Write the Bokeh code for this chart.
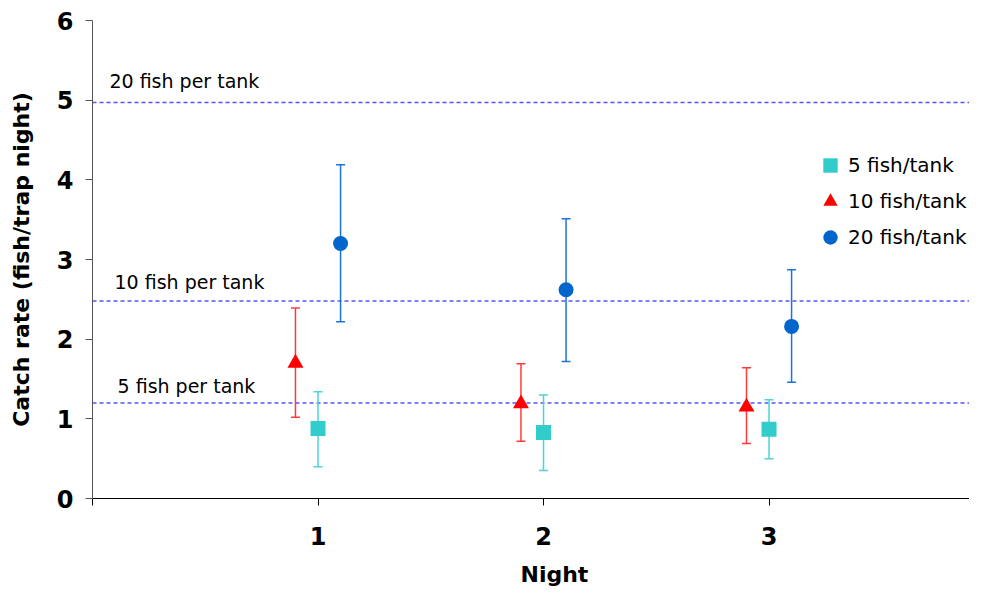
import numpy as np
from bokeh.plotting import figure
from bokeh.models import (ColumnDataSource, Range1d, FixedTicker, Whisker, TeeHead,
                          Span, Label, Legend, LegendItem, Title)
from bokeh.embed import file_html
from bokeh.resources import INLINE

# ---------------- data ----------------
nights = [1, 2, 3]
series_names = ["5 fish/tank", "10 fish/tank", "20 fish/tank"]

fish5_mean = [0.88, 0.83, 0.87]
fish5_upper = [1.34, 1.30, 1.24]
fish5_lower = [0.40, 0.35, 0.50]

fish10_mean = [1.70, 1.19, 1.15]
fish10_upper = [2.39, 1.69, 1.64]
fish10_lower = [1.02, 0.72, 0.69]

fish20_mean = [3.20, 2.62, 2.16]
fish20_upper = [4.19, 3.51, 2.87]
fish20_lower = [2.22, 1.72, 1.46]

ref_values = [1.2, 2.48, 4.97]
ref_labels = ["5 fish per tank", "10 fish per tank", "20 fish per tank"]

y_ticks = [0, 1, 2, 3, 4, 5, 6]
x_ticks = [0, 1, 2, 3]

# ---------------- styles ----------------
FONT = "DejaVu Sans"
styles = [
    dict(offset=0.0, marker="square", size=15, color="#33cccc", bar="#4dd4d4"),
    dict(offset=-0.1, marker="triangle", size=16, color="#ff0000", bar="#ff3b3b"),
    dict(offset=0.1, marker="circle", size=15, color="#0066cc", bar="#1f73d1"),
]
ref_label_x = [0.111, 0.0976, 0.075]
ref_label_dy = [17, 19, 22]

p = figure(width=969, height=599, output_backend="svg", toolbar_location=None,
           x_range=Range1d(0, 3.889), y_range=Range1d(0, 6),
           min_border_left=92, min_border_right=0, min_border_top=20,
           min_border_bottom=101)
p.outline_line_color = None
p.xgrid.visible = False
p.ygrid.visible = False

# axes
p.xaxis.ticker = FixedTicker(ticks=x_ticks)
p.xaxis.major_label_overrides = {0: ""}
p.yaxis.ticker = FixedTicker(ticks=y_ticks)
for ax in (p.xaxis, p.yaxis):
    ax.minor_tick_line_color = None
    ax.major_tick_out = 7
    ax.major_tick_in = 0
    ax.major_label_text_font = FONT
    ax.major_label_text_font_style = "bold"
    ax.major_label_text_font_size = "24px"
    ax.major_label_text_color = "black"
p.xaxis.axis_line_color = "black"
p.xaxis.major_tick_line_color = "black"
p.xaxis.major_label_standoff = 21
p.yaxis.axis_line_color = "#555555"
p.yaxis.major_tick_line_color = "#555555"
p.yaxis.major_label_standoff = 12
p.yaxis.axis_label = "Catch rate (fish/trap night)"
p.yaxis.axis_label_text_font = FONT
p.yaxis.axis_label_text_font_style = "bold"
p.yaxis.axis_label_text_font_size = "22px"
p.yaxis.axis_label_text_color = "black"
p.yaxis.axis_label_standoff = 20

# reference lines
for val, txt, lx, dy in zip(ref_values, ref_labels, ref_label_x, ref_label_dy):
    p.add_layout(Span(location=val, dimension="width", line_color="#5555f5",
                      line_width=1.5, line_dash="4 3", level="underlay"))
    p.add_layout(Label(x=lx, y=val, y_offset=dy, text=txt, text_font=FONT,
                       text_font_size="19px", text_color="black",
                       text_baseline="alphabetic", text_align="left"))

# series
means = [fish5_mean, fish10_mean, fish20_mean]
uppers = [fish5_upper, fish10_upper, fish20_upper]
lowers = [fish5_lower, fish10_lower, fish20_lower]
items = []
for name, m, u, l, st in zip(series_names, means, uppers, lowers, styles):
    src = ColumnDataSource(dict(x=np.array(nights, dtype=float) + st["offset"],
                                mean=m, upper=u, lower=l))
    w = Whisker(base="x", upper="upper", lower="lower", source=src,
                dimension="height", line_color=st["bar"], line_width=1.5,
                upper_head=TeeHead(size=9, line_color=st["bar"], line_width=1.5),
                lower_head=TeeHead(size=9, line_color=st["bar"], line_width=1.5))
    p.add_layout(w)
    r = p.scatter("x", "mean", source=src, marker=st["marker"], size=st["size"],
                  fill_color=st["color"], line_color=None)
    items.append(LegendItem(label=name, renderers=[r]))

legend = Legend(items=items, location=(720, 243), orientation="vertical",
                glyph_width=36, glyph_height=36, label_height=36, spacing=0,
                padding=0, margin=0, label_standoff=0,
                label_text_font=FONT, label_text_font_size="20px",
                label_text_color="black", border_line_color=None,
                background_fill_alpha=0)
p.add_layout(legend, "center")

# x axis title (placed below the tick labels)
p.add_layout(Title(text="Night", align="left", offset=428, standoff=25,
                   text_font=FONT, text_font_style="bold",
                   text_font_size="22px", text_color="black"), "below")

open("out.html", "w").write(file_html(p, INLINE))
